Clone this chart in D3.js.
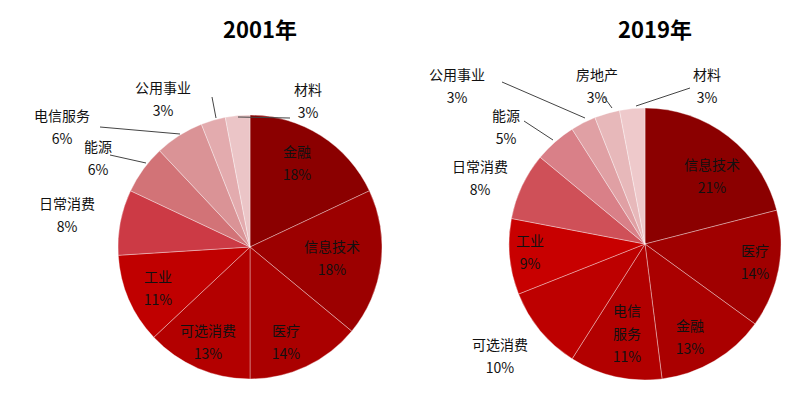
<!DOCTYPE html>
<html><head><meta charset="utf-8">
<script src="https://cdn.jsdelivr.net/npm/d3@7/dist/d3.min.js"></script>
<style>body{margin:0;background:#fff}text{font-family:"Noto Sans CJK SC","Noto Sans",sans-serif}</style>
</head><body><svg id="c" width="806" height="412"></svg>
<script>
const cats2001 = ["金融","信息技术","医疗","可选消费","工业","日常消费","能源","电信服务","公用事业","材料"];
const vals2001 = [18,18,14,13,11,8,6,6,3,3];
const cols2001 = ["#8b0000","#9c0000","#aa0000","#b30000","#c00000","#cc3a45","#d27377","#da9396","#e3abae","#ebc5c7"];
const cats2019 = ["信息技术","医疗","金融","电信服务","可选消费","工业","日常消费","能源","公用事业","房地产","材料"];
const vals2019 = [21,14,13,11,10,9,8,5,3,3,3];
const cols2019 = ["#8b0000","#a00000","#aa0000","#b20000","#bd0000","#c80000","#cf5058","#d98088","#e0a0a4","#e7b8ba","#eec9cb"];
// label layout: [x, y(first line), leader line end x,y or null, multiline name]
const lay2001 = [
 [297,157,null],[332,252,null],[286,336,null],[208,336,null],[158,282,null],
 [67,209,null],[98,152,[110,155,146,163]],[62,121,[100,127,180,134]],[163,93,[212,97,216,118]],[308,95,[290,118,238,117]]];
const lay2019 = [
 [712,170,null],[755,256,null],[690,331,null],[627,316,null,["电信","服务"]],[500,350,null],
 [530,246,null],[480,172,null],[506,121,[524,121,553,140]],[457,80,[502,82,585,118]],[597,80,[604,97,612,108]],[707,80,[690,88,636,106]]];
const svg = d3.select("#c");
function draw(cx,cy,r,title,cats,vals,cols,lay){
  const pie = d3.pie().sort(null).value(d=>d)(vals);
  const arc = d3.arc().innerRadius(0).outerRadius(r);
  const g = svg.append("g").attr("transform",`translate(${cx},${cy})`);
  g.selectAll("path").data(pie).join("path").attr("d",arc).attr("fill",(d,i)=>cols[i])
   .attr("stroke","#fff").attr("stroke-opacity",0.5).attr("stroke-width",0.7);
  svg.append("text").attr("x",cx+10).attr("y",38).attr("text-anchor","middle")
   .attr("font-size",22).attr("font-weight","bold").attr("font-family","Liberation Sans, Arial").text(title);
  cats.forEach((c,i)=>{
    const L=lay[i]; const lines=(L[3]||[c]).concat([vals[i]+"%"]);
    const t=svg.append("text").attr("text-anchor","middle").attr("font-size",14).attr("fill","#111");
    lines.forEach((s,k)=>t.append("tspan").attr("x",L[0]).attr("y",L[1]+k*23).text(s));
    if(L[2]) svg.append("polyline").attr("points",`${L[2][0]},${L[2][1]} ${L[2][2]},${L[2][3]}`)
      .attr("fill","none").attr("stroke","#444").attr("stroke-width",1);
  });
}
draw(250,247,132,"2001年",cats2001,vals2001,cols2001,lay2001);
draw(645,244,136,"2019年",cats2019,vals2019,cols2019,lay2019);
</script></body></html>
